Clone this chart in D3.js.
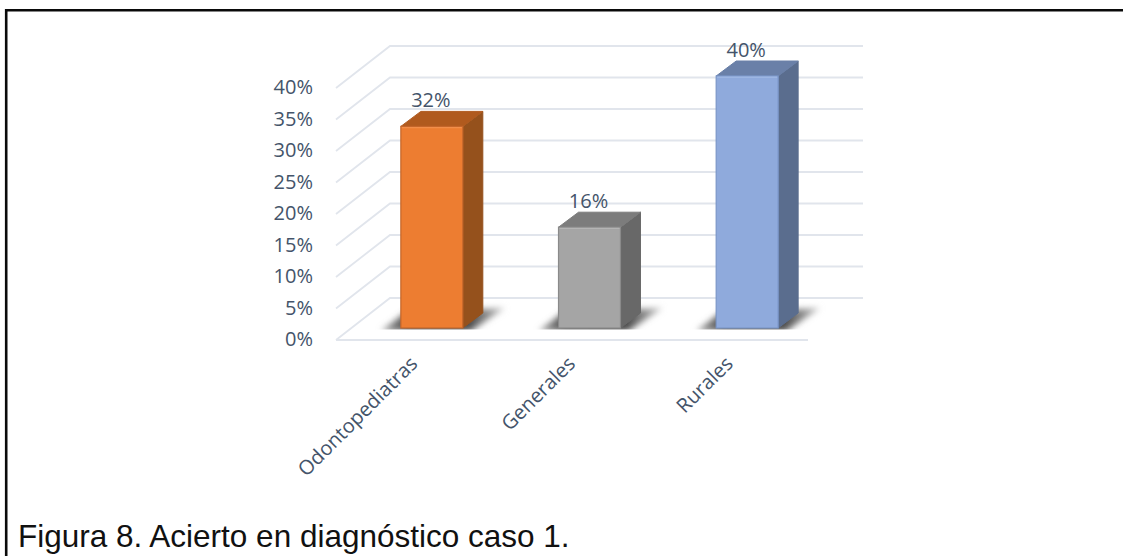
<!DOCTYPE html>
<html><head><meta charset="utf-8">
<script src="https://cdn.jsdelivr.net/npm/d3@7/dist/d3.min.js"></script>
<style>html,body{margin:0;padding:0;background:#fff}svg{display:block}</style>
</head><body><div id="chart"></div>
<script>
const categories = ["Odontopediatras", "Generales", "Rurales"];
const values = [32, 16, 40];
const yTicks = [0, 5, 10, 15, 20, 25, 30, 35, 40];
const faceColors = ["#ed7d31", "#a5a5a5", "#8faadc"];
const topColors = ["#b05a1e", "#7c7c7c", "#6a80a8"];
const sideColors = ["#95511c", "#686868", "#5a6d8e"];
const edgeColors = ["#c4662a", "#8a8a8a", "#7a96c8"];
const highlightColors = ["#f28e4a", "#b4b4b4", "#9db6e2"];
const captionText = "Figura 8. Acierto en diagnóstico caso 1.";

const W = 1123, H = 556;
const svg = d3.select("#chart").append("svg").attr("width", W).attr("height", H);
const defs = svg.append("defs");
defs.append("filter").attr("id", "soft").attr("x", "-20%").attr("y", "-60%").attr("width", "140%").attr("height", "220%")
  .append("feGaussianBlur").attr("stdDeviation", 3.2);
const fade = defs.append("linearGradient").attr("id", "shadeFade");
[[0, "#a8a8a8"], [0.22, "#4c4c4c"], [0.7, "#484848"], [1, "#c8c8c8"]].forEach(([o, c]) =>
  fade.append("stop").attr("offset", o).attr("stop-color", c));

// Frame: top and left rules only
svg.append("path").attr("d", `M6.2,${H}V10.2H${W}`).attr("fill", "none").attr("stroke", "#0a0a0a").attr("stroke-width", 2.6);

// Oblique projection of the chart box
const depth = {x: 54, y: -42};
const barInset = {y: -12};
const barDepth = {x: 20, y: -15};
const y = d3.scaleLinear().domain([0, 40]).range([340, 88]);
const x = d3.scaleBand().domain(categories).range([353, 826]).paddingInner(0.607).paddingOuter(0.3035);
const axisLeft = 336, axisRight = 808;

const grid = "#e1e5ec", ink = "#44546a", labelFont = "Open Sans";
const g = svg.append("g");
// Back wall lines and left wall diagonals
g.selectAll("path.wall").data(yTicks).join("path").attr("class", "wall")
  .attr("d", d => `M${axisLeft},${y(d)}L${axisLeft + depth.x},${y(d) + depth.y}H${axisRight + depth.x + 1}`)
  .attr("fill", "none").attr("stroke", grid).attr("stroke-width", 1.8);
// Front floor edge
g.append("path").attr("d", `M${axisLeft},${y(0)}H${axisRight}`).attr("stroke", grid).attr("stroke-width", 1.8);

// Value axis labels
g.selectAll("text.tick").data(yTicks).join("text").attr("class", "tick")
  .attr("x", 313).attr("y", d => y(d) + 6.4).attr("text-anchor", "end")
  .attr("font-family", labelFont).attr("font-size", 20).attr("fill", ink)
  .text(d => d + "%");

const bars = g.selectAll("g.bar").data(categories.map((c, i) => ({c, v: values[i], i}))).join("g").attr("class", "bar");
const left = d => x(d.c);
const right = d => left(d) + x.bandwidth();
const base = y(0) + barInset.y;
const topY = d => y(d.v) + barInset.y;

// Floor shadow, cut off sharply along the bar's base line
defs.append("clipPath").attr("id", "floor").append("rect").attr("x", 0).attr("y", 0).attr("width", W).attr("height", base + 1.5);
bars.append("g").attr("clip-path", "url(#floor)").append("path").attr("filter", "url(#soft)").attr("fill", "url(#shadeFade)")
  .attr("d", d => `M${left(d) - 20},${base + 3}L${left(d) + 4},${base - 15}L${right(d) + 42},${base - 20}L${right(d) + 8},${base + 3}Z`);
// Side, top and front faces
bars.append("path").attr("fill", d => sideColors[d.i]).attr("stroke", d => sideColors[d.i]).attr("stroke-linejoin", "round")
  .attr("d", d => `M${right(d)},${topY(d)}l${barDepth.x},${barDepth.y}V${base + barDepth.y}L${right(d)},${base}Z`);
bars.append("path").attr("fill", d => topColors[d.i]).attr("stroke", d => topColors[d.i]).attr("stroke-linejoin", "round")
  .attr("d", d => `M${left(d)},${topY(d)}l${barDepth.x},${barDepth.y}H${right(d) + barDepth.x}L${right(d)},${topY(d)}Z`);
bars.append("rect").attr("x", left).attr("y", topY).attr("width", x.bandwidth()).attr("height", d => base - topY(d))
  .attr("fill", d => faceColors[d.i]).attr("stroke", d => edgeColors[d.i]).attr("stroke-width", 1.2);
// Bevel highlight along the front face's upper edge
bars.append("path").attr("d", d => `M${left(d) + 1},${topY(d) + 1.2}H${right(d) - 1}`)
  .attr("stroke", d => highlightColors[d.i]).attr("stroke-width", 1.4);

// Value labels above each bar
bars.append("text").attr("x", d => left(d) + 30).attr("y", d => topY(d) + barDepth.y - 4)
  .attr("text-anchor", "middle").attr("font-family", labelFont).attr("font-size", 20).attr("fill", ink)
  .text(d => d.v + "%");

// Category labels, rotated 45 degrees
g.selectAll("text.cat").data(categories).join("text").attr("class", "cat")
  .attr("transform", c => `translate(${x(c) + x.bandwidth() / 2 - 13},${365}) rotate(-45)`)
  .attr("text-anchor", "end").attr("font-family", labelFont).attr("font-size", 20).attr("fill", ink)
  .text(c => c);

svg.append("text").attr("x", 18).attr("y", 547).attr("font-family", "Liberation Sans").attr("font-size", 31.5).attr("fill", "#111").text(captionText);
</script></body></html>
